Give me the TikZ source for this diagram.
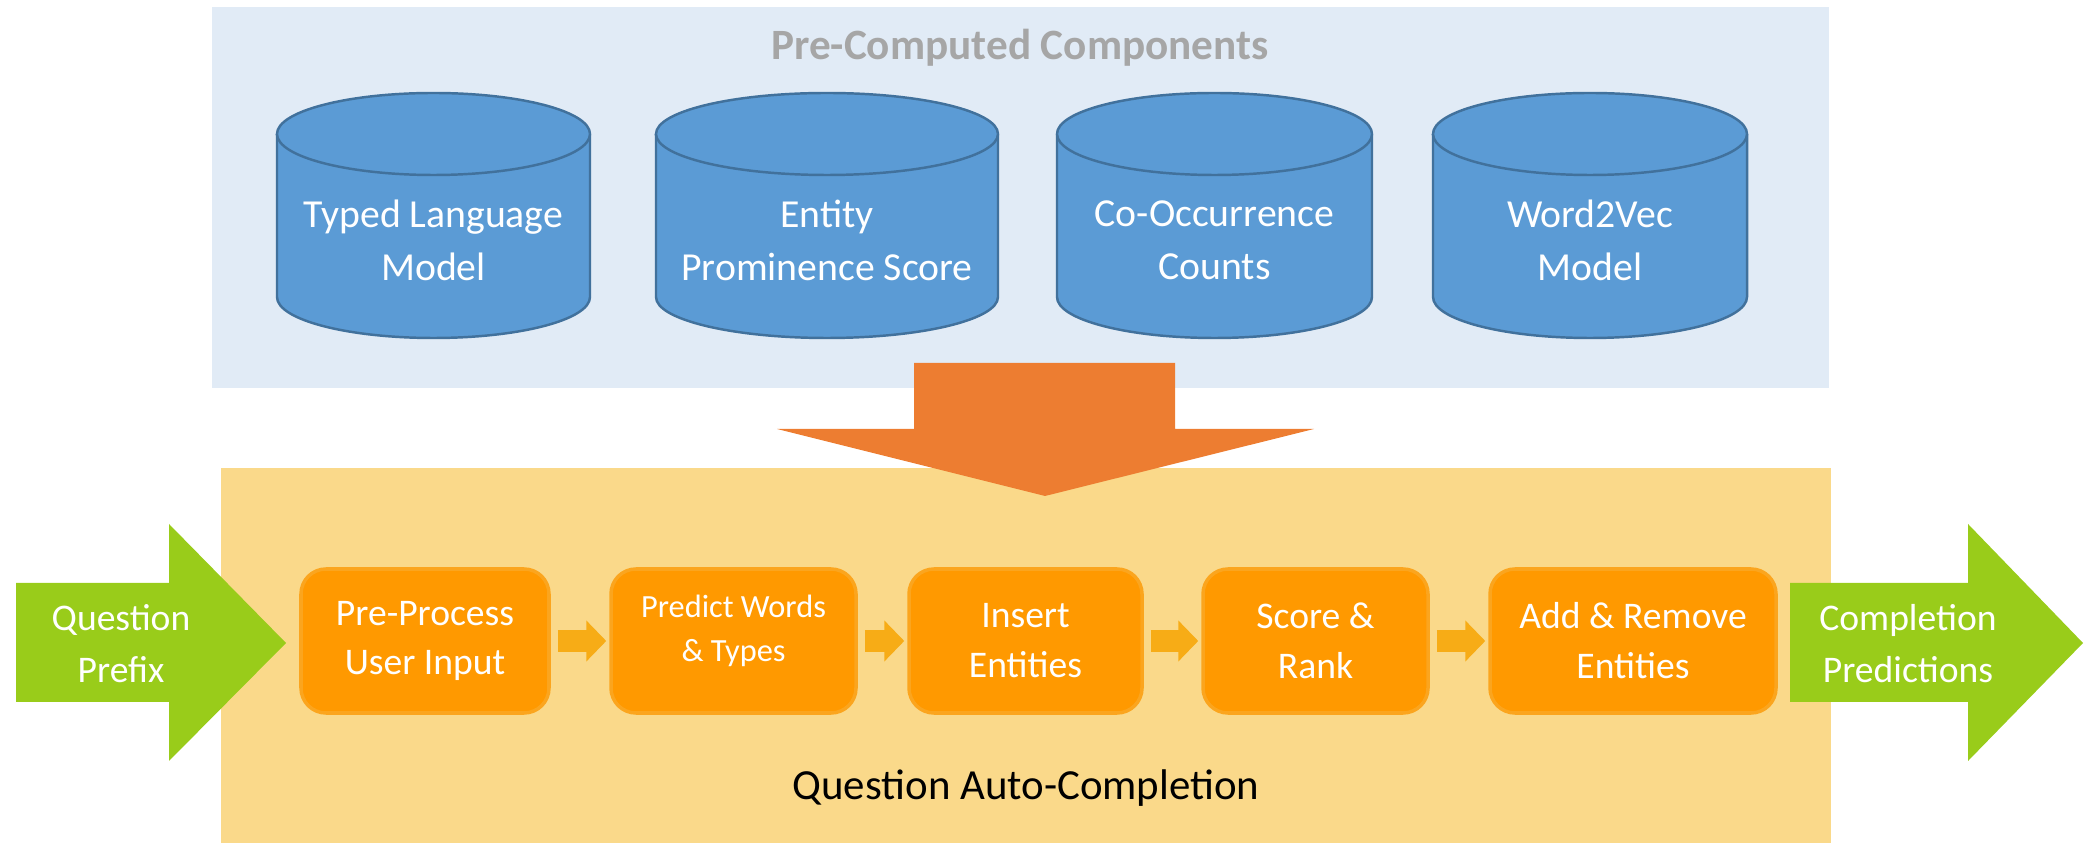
\documentclass[tikz,border=0pt]{standalone}
\usepackage{fontspec}
\setmainfont{Carlito}
\usetikzlibrary{arrows.meta}
\definecolor{paleblue}{HTML}{E1EBF6}
\definecolor{paleyellow}{HTML}{FAD98A}
\definecolor{titlegray}{HTML}{A6A6A6}
\definecolor{dbblue}{HTML}{5B9BD5}
\definecolor{dbline}{HTML}{41719C}
\definecolor{bigorange}{HTML}{ED7D31}
\definecolor{leafgreen}{HTML}{99CC1A}
\definecolor{procfill}{HTML}{FF9900}
\definecolor{procline}{HTML}{FBA51E}
\definecolor{flowcol}{HTML}{F7AC16}
\tikzset{
  dbshape/.style={fill=dbblue, draw=dbline, line width=0.7pt},
  dblabel/.style={text=white, align=center, font=\fontsize{11.3}{15.1}\selectfont},
  proc/.style={rectangle, rounded corners=0.25cm, fill=procfill, draw=procline,
    line width=1pt, minimum height=1.44cm, text=white, align=center,
    font=\fontsize{10.7}{14.2}\selectfont},
  flow/.style={draw=flowcol, line width=0.22cm,
    -{Triangle[length=0.2cm,width=0.4cm]}, shorten <=0.07cm, shorten >=0.03cm},
  inout/.style={text=white, align=center, font=\fontsize{10.7}{14.8}\selectfont},
}
\begin{document}
\begin{tikzpicture}
  \useasboundingbox (0,0) rectangle (20.84,8.43);
  % the two panels
  \fill[paleblue] (2.12,4.55) rectangle (18.29,8.36);
  \fill[paleyellow] (2.21,0) rectangle (18.31,3.75);
  \node[text=titlegray, font=\bfseries\fontsize{12.3}{15}\selectfont] (pre) at (10.20,7.95) {Pre-Computed Components};
  % stores
  \draw[dbshape] (2.77,7.09) -- (2.77,5.46) arc[start angle=180, end angle=360, x radius=1.565, y radius=0.41]
    -- (5.90,7.09) arc[start angle=0, end angle=180, x radius=1.565, y radius=0.41] -- cycle;
  \draw[dbshape] (2.77,7.09) arc[start angle=180, end angle=360, x radius=1.565, y radius=0.41];
  \draw[dbshape] (6.56,7.09) -- (6.56,5.46) arc[start angle=180, end angle=360, x radius=1.71, y radius=0.41]
    -- (9.98,7.09) arc[start angle=0, end angle=180, x radius=1.71, y radius=0.41] -- cycle;
  \draw[dbshape] (6.56,7.09) arc[start angle=180, end angle=360, x radius=1.71, y radius=0.41];
  \draw[dbshape] (10.57,7.09) -- (10.57,5.46) arc[start angle=180, end angle=360, x radius=1.575, y radius=0.41]
    -- (13.72,7.09) arc[start angle=0, end angle=180, x radius=1.575, y radius=0.41] -- cycle;
  \draw[dbshape] (10.57,7.09) arc[start angle=180, end angle=360, x radius=1.575, y radius=0.41];
  \draw[dbshape] (14.33,7.09) -- (14.33,5.46) arc[start angle=180, end angle=360, x radius=1.57, y radius=0.41]
    -- (17.47,7.09) arc[start angle=0, end angle=180, x radius=1.57, y radius=0.41] -- cycle;
  \draw[dbshape] (14.33,7.09) arc[start angle=180, end angle=360, x radius=1.57, y radius=0.41];
  \node[dblabel] (tlm) at (4.335,6.03) {Typed Language\\Model};
  \node[dblabel] (eps) at (8.27,6.03) {Entity\\Prominence Score};
  \node[dblabel] (coc) at (12.145,6.03) {Co-Occurrence\\Counts};
  \node[dblabel] (w2v) at (15.90,6.03) {Word2Vec\\Model};
  % big arrows
  \fill[bigorange] (9.14,4.80) -- (11.75,4.80) -- (11.75,4.14) -- (13.14,4.14)
    -- (10.45,3.47) -- (7.77,4.14) -- (9.14,4.14) -- cycle;
  \fill[leafgreen] (0.16,2.60) -- (1.69,2.60) -- (1.69,3.19) -- (2.86,2.00)
    -- (1.69,0.82) -- (1.69,1.41) -- (0.16,1.41) -- cycle;
  \fill[leafgreen] (17.90,2.60) -- (19.68,2.60) -- (19.68,3.19) -- (20.83,2.00)
    -- (19.68,0.82) -- (19.68,1.41) -- (17.90,1.41) -- cycle;
  \node[inout] (qp) at (1.21,1.99) {Question\\Prefix};
  \node[inout] (cp) at (19.08,1.99) {Completion\\Predictions};
  % steps
  \node[proc, minimum width=2.48cm] (prep) at (4.25,2.02) {Pre-Process\\User Input};
  \node[proc, minimum width=2.45cm, text depth=7pt, font=\fontsize{9.2}{12.5}\selectfont] (pred) at (7.335,2.02) {Predict Words\\\& Types};
  \node[proc, minimum width=2.33cm] (ins) at (10.255,2.02) {Insert\\Entities};
  \node[proc, minimum width=2.25cm] (rank) at (13.155,2.02) {Score \&\\Rank};
  \node[proc, minimum width=2.86cm] (addrm) at (16.33,2.02) {Add \& Remove\\Entities};
  \begin{scope}[flow]
    \draw (prep) to (pred);
    \draw (pred) to (ins);
    \draw (ins) to (rank);
    \draw (rank) to (addrm);
  \end{scope}
  \node[font=\fontsize{12.2}{15}\selectfont] (qac) at (10.26,0.55) {Question Auto-Completion};
\end{tikzpicture}
\end{document}
